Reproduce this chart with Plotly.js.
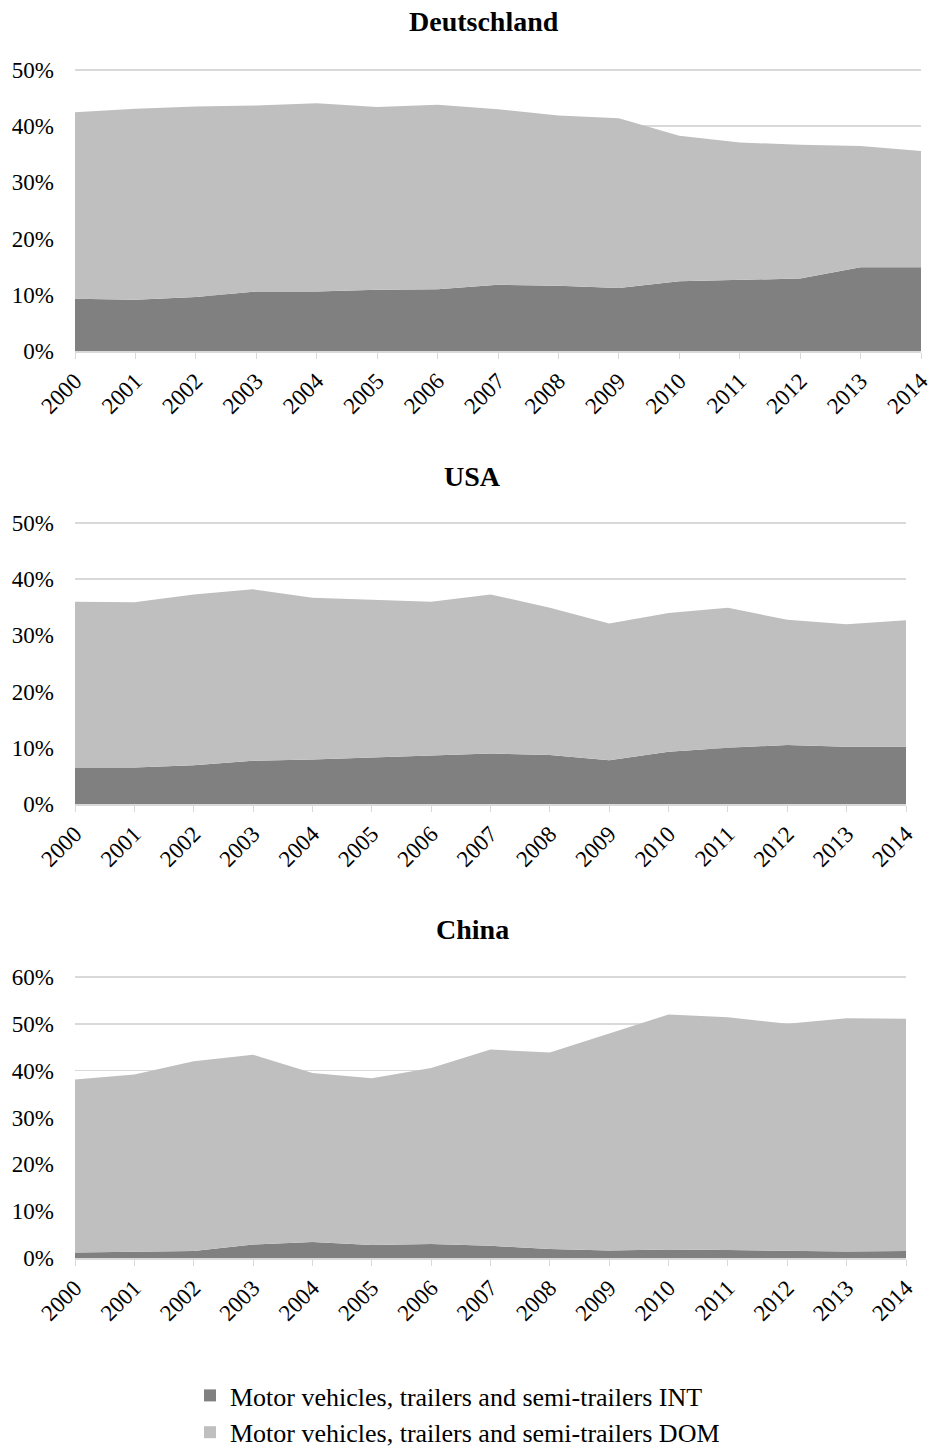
<!DOCTYPE html>
<html>
<head>
<meta charset="utf-8">
<script src="https://cdn.plot.ly/plotly-3.0.1.min.js"></script>
<style>html,body{margin:0;padding:0;background:#fff;}#chart{width:933px;height:1450px;}</style>
</head>
<body>
<div id="chart"></div>
<script>
const years = ['2000','2001','2002','2003','2004','2005','2006','2007','2008','2009','2010','2011','2012','2013','2014'];
const seriesNames = ['Motor vehicles, trailers and semi-trailers INT', 'Motor vehicles, trailers and semi-trailers DOM'];
const panelTitles = ['Deutschland', 'USA', 'China'];

// Deutschland (percent)
const deInt = [9.3, 9.1, 9.6, 10.6, 10.6, 10.9, 11.0, 11.8, 11.6, 11.2, 12.4, 12.7, 12.9, 14.9, 14.9];
const deDom = [33.2, 34.0, 33.9, 33.1, 33.5, 32.5, 32.8, 31.2, 30.3, 30.2, 25.9, 24.4, 23.8, 21.6, 20.7];

// USA (percent)
const usInt = [6.5, 6.5, 6.9, 7.7, 7.9, 8.3, 8.6, 9.0, 8.7, 7.8, 9.3, 10.0, 10.5, 10.2, 10.2];
const usDom = [29.5, 29.4, 30.4, 30.5, 28.8, 28.1, 27.4, 28.3, 26.2, 24.3, 24.7, 24.9, 22.3, 21.8, 22.5];

// China (percent)
const cnInt = [1.2, 1.4, 1.5, 2.9, 3.4, 2.8, 3.0, 2.6, 1.9, 1.6, 1.8, 1.7, 1.6, 1.4, 1.5];
const cnDom = [36.9, 37.8, 40.5, 40.5, 36.1, 35.6, 37.6, 41.9, 42.0, 46.3, 50.2, 49.7, 48.4, 49.8, 49.6];

const intColor = '#808080';
const domColor = '#bfbfbf';
const gridColor = '#d9d9d9';
const font = '"Liberation Serif", "Times New Roman", serif';

function area(y, name, color, xa, ya, group) {
  return {
    x: years, y: y, name: name, type: 'scatter', mode: 'lines',
    stackgroup: group, line: {width: 0, color: color}, fillcolor: color,
    xaxis: xa, yaxis: ya, showlegend: false, hoverinfo: 'x+y+name'
  };
}
function legendItem(name, color) {
  return {
    x: [null], y: [null], name: name, type: 'scatter', mode: 'markers',
    marker: {symbol: 'square', size: 13, color: color}, showlegend: true,
    xaxis: 'x3', yaxis: 'y3'
  };
}

const data = [
  area(deInt, seriesNames[0], intColor, 'x', 'y', 'g1'),
  area(deDom, seriesNames[1], domColor, 'x', 'y', 'g1'),
  area(usInt, seriesNames[0], intColor, 'x2', 'y2', 'g2'),
  area(usDom, seriesNames[1], domColor, 'x2', 'y2', 'g2'),
  area(cnInt, seriesNames[0], intColor, 'x3', 'y3', 'g3'),
  area(cnDom, seriesNames[1], domColor, 'x3', 'y3', 'g3'),
  legendItem(seriesNames[0], intColor),
  legendItem(seriesNames[1], domColor)
];

function xax(domain, anchor) {
  return {
    domain: domain, anchor: anchor, type: 'category', range: [0, 14],
    showgrid: false, zeroline: false, showline: true, linecolor: gridColor, linewidth: 1.5,
    ticks: 'outside', ticklen: 6, tickcolor: gridColor, tickwidth: 1,
    tickangle: -45, tickfont: {family: font, size: 23, color: '#000'}, fixedrange: true
  };
}
function yax(domain, anchor, max) {
  return {
    domain: domain, anchor: anchor, range: [0, max], tick0: 0, dtick: 10, ticksuffix: '%',
    showgrid: true, gridcolor: gridColor, gridwidth: 1.5, zeroline: false, showline: false,
    ticks: '', ticklabelstandoff: 20,
    tickfont: {family: font, size: 23, color: '#000'}, fixedrange: true
  };
}

const W = 933, H = 1450;
function py(p) { return 1 - p / H; }

const layout = {
  width: W, height: H,
  margin: {l: 0, r: 0, t: 0, b: 0, autoexpand: false},
  paper_bgcolor: '#fff', plot_bgcolor: '#fff',
  font: {family: font, color: '#000'},
  xaxis: xax([75 / W, 921 / W], 'y'),
  yaxis: yax([py(351), py(67.2)], 'x', 50.5),
  xaxis2: xax([75 / W, 906 / W], 'y2'),
  yaxis2: yax([py(804), py(520.2)], 'x2', 50.5),
  xaxis3: xax([75 / W, 906 / W], 'y3'),
  yaxis3: yax([py(1258), py(974.7)], 'x3', 60.5),
  showlegend: true,
  legend: {
    x: 190 / W, y: py(1372), xanchor: 'left', yanchor: 'top',
    traceorder: 'normal', font: {family: font, size: 26, color: '#000'},
    bgcolor: 'rgba(0,0,0,0)', itemwidth: 30, itemsizing: 'constant', tracegroupgap: 0
  },
  annotations: panelTitles.map((t, i) => ({
    text: '<b>' + t + '</b>', xref: 'paper', yref: 'paper',
    x: [484, 472, 473][i] / W,
    y: py([21, 477, 929][i]), xanchor: 'center', yanchor: 'middle',
    showarrow: false, font: {family: font, size: 28, color: '#000'}
  }))
};

Plotly.newPlot('chart', data, layout, {staticPlot: true, displayModeBar: false});
</script>
</body>
</html>
